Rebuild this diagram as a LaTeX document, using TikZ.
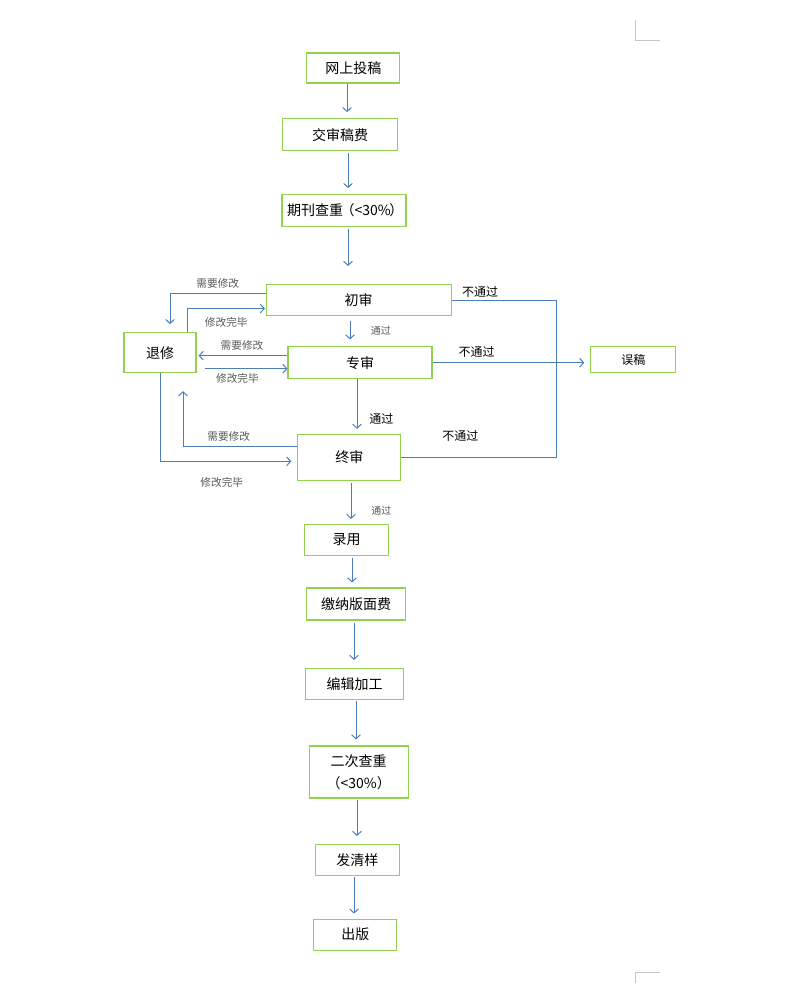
\documentclass[tikz,border=0pt]{standalone}
\usepackage{fontspec}
\setmainfont{Noto Sans CJK SC}
\usetikzlibrary{arrows.meta,positioning,calc}
\definecolor{linkblue}{HTML}{4A7EBB}
\definecolor{boxgreen}{HTML}{92D050}
\definecolor{notegray}{HTML}{595959}

\begin{document}
\begin{tikzpicture}[node distance=50pt,
box/.style={
rectangle,
draw=boxgreen,
line width=0.8pt,
inner sep=1pt,
align=center,
font=\fontsize{10.5}{16.5}\selectfont
},
to/.style={-{Straight Barb[length=3pt,width=6.5pt]},draw=linkblue,line width=0.75pt},
flow/.style={to,shorten <=1.5pt,shorten >=4.5pt},
line/.style={draw=linkblue,line width=0.75pt},
note/.style={text=notegray,font=\fontsize{8}{10}\selectfont},
small/.style={text=notegray,font=\fontsize{7.5}{9}\selectfont},
verdict/.style={font=\fontsize{9}{11}\selectfont}]

\useasboundingbox (0,0) rectangle (600pt,-750pt);

% page corner marks
\draw[gray!45,line width=0.75pt] (476.25pt,-15pt) -- (476.25pt,-30pt) -- (495pt,-30pt);
\draw[gray!45,line width=0.75pt] (476.25pt,-737.25pt) -- (476.25pt,-729pt) -- (495pt,-729pt);

% main column
\node (up) [box,minimum width=69.75pt,minimum height=22.5pt] at (265pt,-51pt) {网上投稿};
\node (fee) [box,below of=up,node distance=50pt,xshift=-10pt,minimum width=86.25pt,minimum height=24pt] {交审稿费};
\node (chk) [box,below of=fee,node distance=57pt,xshift=3pt,minimum width=93pt,minimum height=24pt] {期刊查重\kern-2pt（<30\%\kern-1pt）\kern-2pt};
\node (first) [box,below of=chk,node distance=67pt,xshift=11pt,minimum width=138.75pt,minimum height=23.25pt] {初审};
\node (expert) [box,below of=first,node distance=47pt,xshift=1pt,minimum width=108pt,minimum height=24pt] {专审};
\node (final) [box,below of=expert,node distance=71pt,xshift=-8pt,minimum width=77.25pt,minimum height=34.5pt] {终审};
\node (accept) [box,below of=final,node distance=62pt,xshift=-2pt,minimum width=63pt,minimum height=23.25pt] {录用};
\node (pay) [box,below of=accept,node distance=48pt,xshift=7pt,minimum width=74.25pt,minimum height=24pt] {缴纳版面费};
\node (edit) [box,below of=pay,node distance=60pt,xshift=-1pt,minimum width=73.5pt,minimum height=23.25pt] {编辑加工};
\node (recheck) [box,below of=edit,node distance=66pt,xshift=3pt,minimum width=74.25pt,minimum height=39pt] {二次查重\\（<30\%）};
\node (proof) [box,below of=recheck,node distance=66pt,xshift=-1pt,minimum width=63pt,minimum height=23.25pt] {发清样};
\node (pub) [box,below of=proof,node distance=56pt,xshift=-1.5pt,minimum width=62.25pt,minimum height=23.25pt] {出版};

% side boxes
\node (back) [box,left of=expert,node distance=150pt,yshift=7.5pt,minimum width=54pt,minimum height=30pt] {退修};
\node (reject) [box,right of=expert,node distance=205pt,yshift=2.25pt,minimum width=63.75pt,minimum height=19.5pt,font=\fontsize{9}{11}\selectfont] {误稿};
\coordinate (fail) at ($(first.east)+(78.6pt,0)$);

% steps down the column
\draw[flow,shorten <=0pt] ([xshift=-4.75pt]up.south) -- ([xshift=-4.75pt]up.south |- fee.north);
\draw[flow] ([xshift=6pt]fee.south) -- ([xshift=6pt]fee.south |- chk.north);
\draw[flow,shorten >=13.5pt] ([xshift=3pt]chk.south) -- ([xshift=3pt]chk.south |- first.north);
\draw[flow,shorten <=3.75pt,shorten >=5pt] ([xshift=-6.5pt]first.south) -- node[small,midway,right,xshift=12pt] {通过} ([xshift=-6.5pt]first.south |- expert.north);
\draw[flow,shorten <=0pt,shorten >=3.75pt] ([xshift=-2.25pt]expert.south) -- node[verdict,pos=0.72,right,xshift=5.5pt] {通过} ([xshift=-2.25pt]expert.south |- final.north);
\draw[flow,shorten >=3.75pt] ([xshift=1.25pt]final.south) -- node[small,pos=0.68,right,xshift=11.5pt] {通过} ([xshift=1.25pt]final.south |- accept.north);
\draw[flow,shorten >=3.75pt] ([xshift=4pt]accept.south) -- ([xshift=4pt]accept.south |- pay.north);
\draw[flow,shorten >=6pt] ([xshift=-1.5pt]pay.south) -- ([xshift=-1.5pt]pay.south |- edit.north);
\draw[flow,shorten <=0.75pt] ([xshift=1pt]edit.south) -- ([xshift=1pt]edit.south |- recheck.north);
\draw[flow,shorten <=0.75pt,shorten >=6pt] ([xshift=-1.25pt]recheck.south) -- ([xshift=-1.25pt]recheck.south |- proof.north);
\draw[flow,shorten <=0.75pt,shorten >=3.75pt] ([xshift=-2.5pt]proof.south) -- ([xshift=-2.5pt]proof.south |- pub.north);

% revision loops
\draw[to,shorten >=6pt] ([yshift=5pt]first.west) -| node[note,pos=0.25,above] {需要修改} ([xshift=7.5pt]back.north);
\draw[to,shorten >=0.5pt] ([xshift=20.25pt]back.north) |- node[note,pos=0.75,below,yshift=-3pt] {修改完毕} ([yshift=-6.4pt]first.west);
\draw[to,shorten >=1.5pt] ([yshift=5.25pt]expert.west) -- node[note,above] {需要修改} ([yshift=5.25pt]expert.west -| back.east);
\draw[to,shorten <=6pt] ([yshift=-4.5pt]expert.west -| back.east) -- node[note,pos=0.45,below] {修改完毕} ([yshift=-4.5pt]expert.west);
\draw[to,shorten >=13.5pt] ([yshift=8.25pt]final.west) -| node[note,pos=0.3,above] {需要修改} ([xshift=17.25pt]back.south);
\draw[to,shorten >=4.5pt] (back.south) |- node[note,pos=0.725,below=8pt] {修改完毕} ([yshift=-3pt]final.west);

% rejections
\draw[line] (first.east) -- node[verdict,pos=0.27,above,yshift=-2pt] {不通过} (fail) |- node[verdict,pos=0.81,above=8pt] {不通过} (final.east);
\draw[to,shorten >=4.5pt] (expert.east) -- node[verdict,pos=0.28,above] {不通过} (expert.east -| reject.west);
\end{tikzpicture}
\end{document}
